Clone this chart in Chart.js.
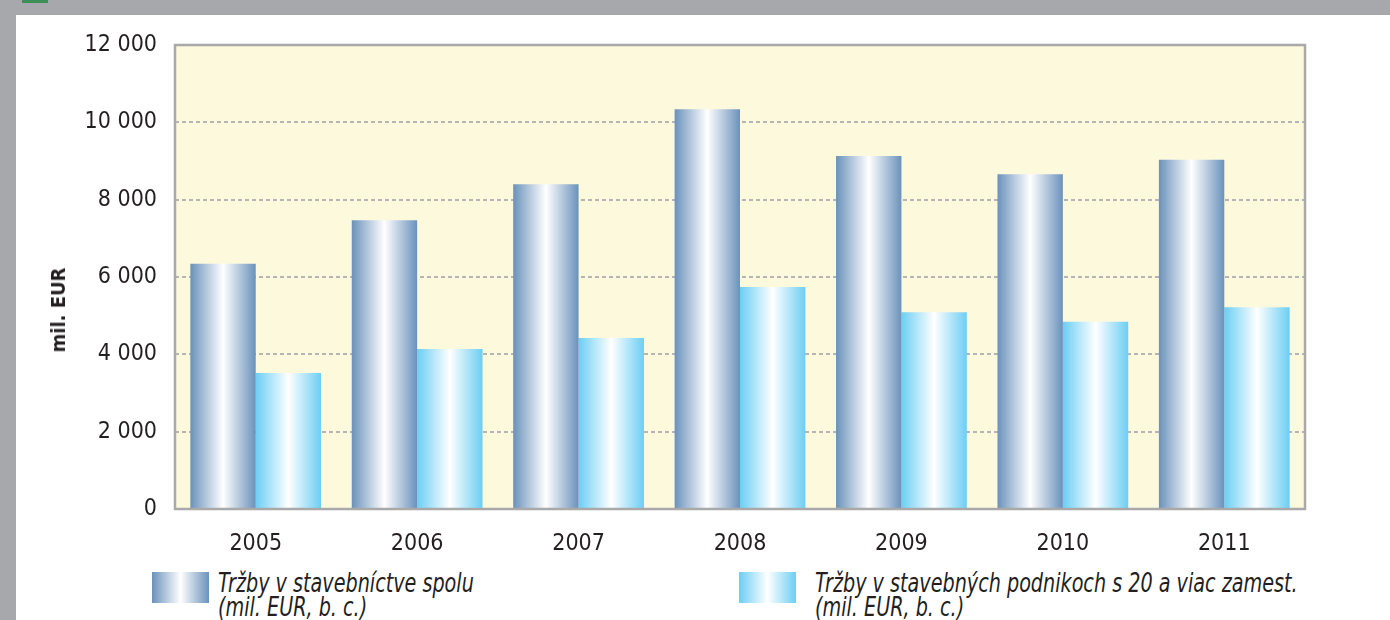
<!DOCTYPE html>
<html>
<head>
<meta charset="utf-8">
<script src="https://cdn.jsdelivr.net/npm/chart.js@4"></script>
<style>
  body { margin: 0; width: 1390px; height: 620px; overflow: hidden; background: #fff; position: relative;
         font-family: 'Liberation Sans Narrow', 'DejaVu Sans Condensed', sans-serif; color: #231F20; }
  #frameTop { position: absolute; left: 0; top: 0; width: 1390px; height: 15px; background: #A7A8AB; }
  #frameLeft { position: absolute; left: 0; top: 0; width: 16px; height: 620px; background: #A7A8AB; }
  #mark { position: absolute; left: 22px; top: 0; width: 26px; height: 3px; background: #3E8E57; }
  #wrap { position: absolute; left: 0; top: 0; width: 1390px; height: 560px; }
  #yTitle { position: absolute; left: 58px; top: 310px; transform: translate(-50%, -50%) rotate(-90deg);
            font-weight: bold; font-size: 20px; white-space: nowrap; }
  .sw { position: absolute; top: 572px; width: 57px; height: 31px; }
  .leg { position: absolute; top: 571px; font-style: italic; font-size: 26px; line-height: 24px; white-space: nowrap;
         transform: scaleX(0.82); transform-origin: left top; }
</style>
</head>
<body>
<div id="wrap"><canvas id="salesChart" width="1390" height="560"></canvas></div>
<div id="frameTop"></div>
<div id="frameLeft"></div>
<div id="mark"></div>
<div id="yTitle">mil. EUR</div>

<div class="sw" style="left:152px;background:linear-gradient(to right,#6A92BB,#fff 50%,#6A92BB)"></div>
<div class="leg" style="left:218px">Tržby v stavebníctve spolu<br>(mil. EUR, b. c.)</div>
<div class="sw" style="left:739px;background:linear-gradient(to right,#6CCEF4,#fff 50%,#6CCEF4)"></div>
<div class="leg" style="left:815px">Tržby v stavebných podnikoch s 20 a viac zamest.<br>(mil. EUR, b. c.)</div>

<script>
const years = ['2005', '2006', '2007', '2008', '2009', '2010', '2011'];
const totalSales = [6340, 7470, 8400, 10340, 9130, 8660, 9030];
const largeFirmSales = [3520, 4140, 4420, 5740, 5090, 4840, 5220];
const seriesNames = ['Tržby v stavebníctve spolu (mil. EUR, b. c.)', 'Tržby v stavebných podnikoch s 20 a viac zamest. (mil. EUR, b. c.)'];

const fontFamily = "'Liberation Sans Narrow', 'DejaVu Sans Condensed', sans-serif";
const catPct = 0.81;

// horizontal "cylinder" shading for each bar, worked out from the x scale
function barShade(edge, side) {
    return function(ctx) {
        const chart = ctx.chart;
        const x = chart.scales.x;
        if (ctx.type !== 'data' || !chart.chartArea || !x) return edge;
        const barW = (x.width / years.length) * catPct / 2;
        const c = x.getPixelForValue(ctx.dataIndex);
        const x0 = side < 0 ? c - barW : c;
        const g = chart.ctx.createLinearGradient(x0, 0, x0 + barW, 0);
        g.addColorStop(0, edge);
        g.addColorStop(0.5, '#FFFFFF');
        g.addColorStop(1, edge);
        return g;
    };
}

const plotFrame = {
    id: 'plotFrame',
    beforeDraw(chart) {
        const a = chart.chartArea, c = chart.ctx;
        c.save();
        c.fillStyle = '#FDF9DD';
        c.fillRect(a.left, a.top, a.right - a.left, a.bottom - a.top);
        c.restore();
    },
    afterDatasetsDraw(chart) {
        const a = chart.chartArea, c = chart.ctx;
        c.save();
        c.strokeStyle = '#A9A9A9';
        c.lineWidth = 2.5;
        c.strokeRect(a.left, a.top, a.right - a.left, a.bottom - a.top);
        c.restore();
    }
};

Chart.defaults.font.family = fontFamily;
Chart.defaults.color = '#231F20';

new Chart(document.getElementById('salesChart').getContext('2d'), {
    type: 'bar',
    data: {
        labels: years,
        datasets: [{
            label: seriesNames[0],
            data: totalSales,
            backgroundColor: barShade('#6A92BB', -1),
            borderWidth: 0,
            categoryPercentage: catPct,
            barPercentage: 1
        }, {
            label: seriesNames[1],
            data: largeFirmSales,
            backgroundColor: barShade('#6CCEF4', 1),
            borderWidth: 0,
            categoryPercentage: catPct,
            barPercentage: 1
        }]
    },
    options: {
        responsive: false,
        animation: false,
        layout: { padding: { left: 20, right: 85, top: 45, bottom: 0 } },
        plugins: { legend: { display: false }, tooltip: { enabled: false } },
        scales: {
            x: {
                grid: { display: false },
                border: { display: false },
                ticks: { font: { size: 23 }, padding: 13, maxRotation: 0 },
                afterFit: s => { s.height = 51; }
            },
            y: {
                min: 0,
                max: 12000,
                grid: { color: '#B5B5B5', lineWidth: 2, drawTicks: false },
                border: { display: false, dash: [4, 3] },
                ticks: {
                    stepSize: 2000,
                    padding: 18,
                    font: { size: 23 },
                    callback: v => String(v).replace(/\B(?=(\d{3})+(?!\d))/g, ' ')
                },
                afterFit: s => { s.width = 155; }
            }
        }
    },
    plugins: [plotFrame]
});
</script>
</body>
</html>
